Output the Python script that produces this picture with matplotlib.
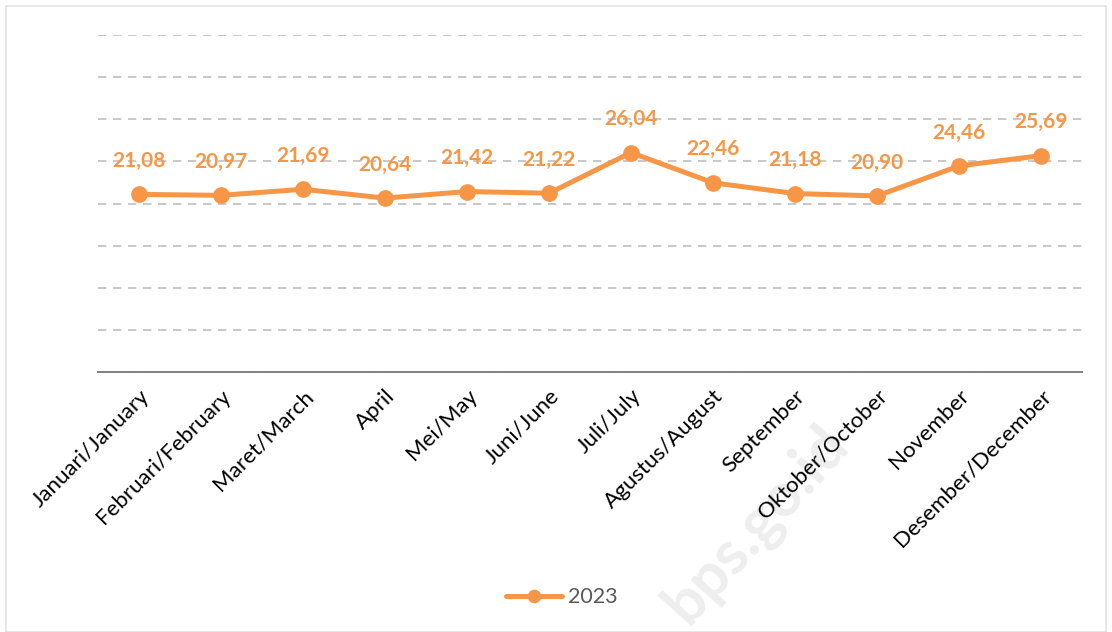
import matplotlib.pyplot as plt
from matplotlib.patches import Rectangle

# Monthly values, 2023
months = ['Januari/January', 'Februari/February', 'Maret/March', 'April',
          'Mei/May', 'Juni/June', 'Juli/July', 'Agustus/August', 'September',
          'Oktober/October', 'November', 'Desember/December']
values_2023 = [21.08, 20.97, 21.69, 20.64, 21.42, 21.22, 26.04, 22.46,
               21.18, 20.90, 24.46, 25.69]
y_ticks = [0, 5, 10, 15, 20, 25, 30, 35, 40]

orange = '#F79646'
plt.rcParams['font.family'] = ['Lato', 'DejaVu Sans']

fig = plt.figure(figsize=(11.12, 6.32), dpi=100)
fig.patches.append(Rectangle((0.005, 0.0), 0.99, 0.99, transform=fig.transFigure,
                             fill=False, edgecolor='#E3E3E3', lw=1.2))

# faint watermark behind everything
fig.text(0.68, 0.17, 'bps.go.id', rotation=48, fontsize=44, fontweight='bold',
         color='#EEEEEE', ha='center', va='center', zorder=-5)

ax = fig.add_axes([0.0881, 0.4114, 0.885, 0.5332])
ax.patch.set_alpha(0)
x = list(range(len(months)))
ax.plot(x, values_2023, color=orange, lw=3.6, marker='o', markersize=11,
        label='2023', zorder=3, solid_capstyle='round')

for xi, v in zip(x, values_2023):
    ax.annotate(f'{v:.2f}'.replace('.', ','), (xi, v), xytext=(0, 24),
                textcoords='offset points', ha='center', va='center',
                fontsize=15, fontweight='bold', color=orange, zorder=4)

ax.set_xlim(-0.5, len(months) - 0.5)
ax.set_ylim(0, 40)
ax.set_yticks(y_ticks)
ax.set_yticklabels([])
ax.tick_params(axis='y', length=0)
ax.grid(axis='y', color='#BFBFBF', linestyle=(0, (5, 4)), lw=1.2)
ax.set_axisbelow(True)

ax.set_xticks(x)
ax.set_xticklabels(months, rotation=45, ha='right', rotation_mode='anchor',
                   fontsize=16, color='black')
ax.tick_params(axis='x', length=0, pad=10)

for s in ['top', 'right', 'left']:
    ax.spines[s].set_visible(False)
ax.spines['bottom'].set_color('#808080')
ax.spines['bottom'].set_linewidth(1.4)

leg = fig.legend(loc='center', bbox_to_anchor=(0.505, 0.055), frameon=False,
                 fontsize=15.5, handlelength=2.6, markerscale=0.8,
                 handletextpad=0.3)
for t in leg.get_texts():
    t.set_color('#595959')

fig.savefig('out.png', dpi=100)
